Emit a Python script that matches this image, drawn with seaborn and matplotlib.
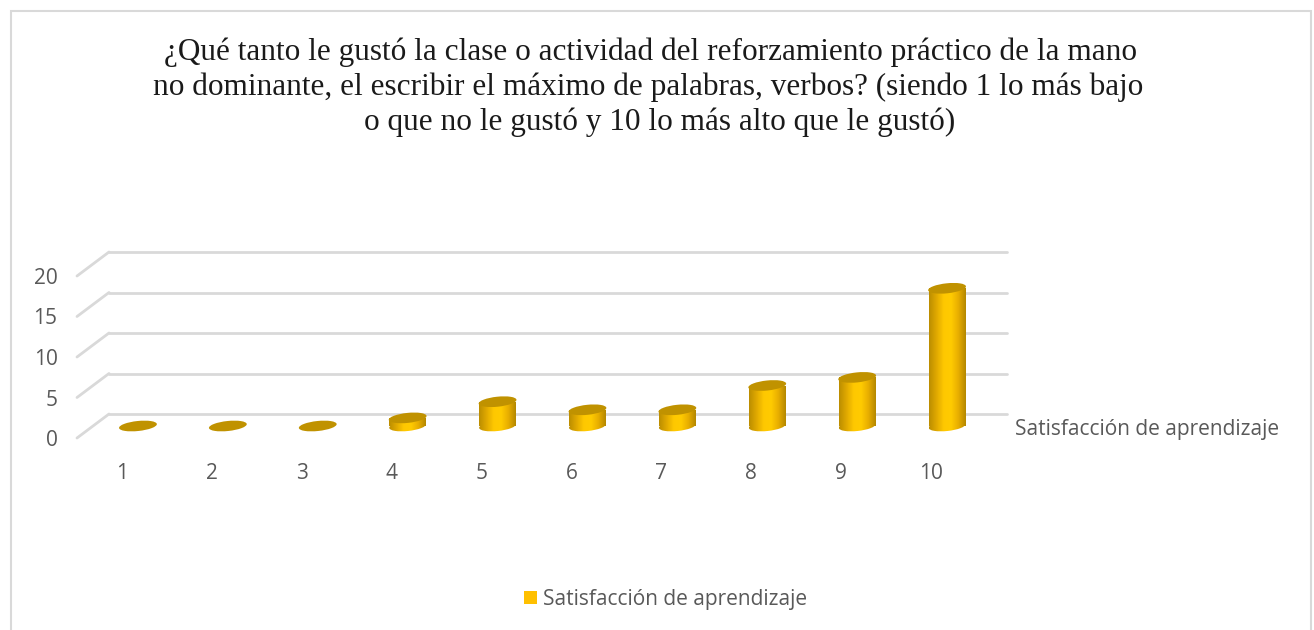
import matplotlib
matplotlib.use('Agg')
import matplotlib.pyplot as plt
import numpy as np
import pandas as pd
import seaborn as sns
from matplotlib.colors import LinearSegmentedColormap
from matplotlib.patches import ConnectionPatch, Ellipse, Rectangle
from matplotlib.transforms import IdentityTransform

# Data
categorias = ['1', '2', '3', '4', '5', '6', '7', '8', '9', '10']
satisfaccion = [0, 0, 0, 1, 3, 2, 2, 5, 6, 17]
marcas_y = [0, 5, 10, 15, 20]
serie = 'Satisfacción de aprendizaje'
titulo = ['¿Qué tanto le gustó la clase o actividad del reforzamiento práctico de la mano',
          'no dominante, el escribir el máximo de palabras, verbos? (siendo 1 lo más bajo',
          'o que no le gustó y 10 lo más alto que le gustó)']

df = pd.DataFrame({'categoria': categorias, 'valor': satisfaccion})

W, H = 1314, 630
GRIS = '#595959'
LINEA = '#D9D9D9'

sns.set_theme(style='white')
plt.rcParams['font.family'] = ['Open Sans', 'DejaVu Sans']

fig = plt.figure(figsize=(W / 100, H / 100), dpi=100, facecolor='white')


# pixel box (top-left origin) to a figure axes
def caja(x0, y_base, ancho, alto):
    return fig.add_axes([x0 / W, 1 - y_base / H, ancho / W, alto / H])


# chart frame, runs off the bottom of the picture
fig.add_artist(Rectangle((10.5 / W, -0.02), 1300.5 / W, 1.02 - 10.5 / H, transform=fig.transFigure,
                         fill=False, edgecolor=LINEA, linewidth=1.5))

# back wall with the gridlines, front plane with the labels, bars half way between
fondo = caja(109, 414, 898, 162)
frente = caja(77, 438, 899, 162)
barras = caja(93, 426, 899, 162)

for a in (fondo, frente, barras):
    a.patch.set_alpha(0)
    a.set_xlim(-0.5, 9.5)
    a.set_ylim(0, 20)
    sns.despine(ax=a, left=True, bottom=True)

fondo.set_xticks([])
fondo.set_yticks(marcas_y)
fondo.set_yticklabels([])
fondo.tick_params(length=0)
fondo.grid(axis='y', color=LINEA, linewidth=2)
fondo.set_axisbelow(True)
for g in fondo.get_ygridlines():
    g.set_clip_on(False)
for s in fondo.spines.values():
    s.set_visible(False)

frente.set_xticks(range(len(categorias)))
frente.set_xticklabels(categorias)
frente.set_yticks(marcas_y)
frente.tick_params(length=0, labelsize=15, labelcolor=GRIS)
frente.tick_params(axis='x', pad=18)
frente.tick_params(axis='y', pad=14)

# side lines from the front plane to the back wall
for v in marcas_y:
    fig.add_artist(ConnectionPatch(xyA=(-0.5, v), coordsA=frente.transData,
                                   xyB=(-0.5, v), coordsB=fondo.transData,
                                   color=LINEA, linewidth=2))

sns.barplot(data=df, x='categoria', y='valor', order=categorias, color='#FFC000',
            width=0.41, ax=barras, saturation=1)
barras.set_xlim(-0.5, 9.5)
barras.set_ylim(0, 20)
barras.axis('off')

# cylinder shading
sombra = LinearSegmentedColormap.from_list('cilindro', ['#BC8E00', '#E0A900', '#FFC800', '#FFCB00', '#E8AE00', '#B58800'])
franja = np.linspace(0, 1, 64).reshape(1, -1)
TAPA = '#C09200'
ANCHO_E, ALTO_E, GIRO = 38, 10, 6

for rect, valor in zip(list(barras.patches), satisfaccion):
    x, w = rect.get_x(), rect.get_width()
    cx, y0 = barras.transData.transform((x + w / 2, 0))
    _, y1 = barras.transData.transform((x + w / 2, valor))
    rect.set_visible(False)
    if valor > 0:
        # body and rounded base, both clipped from one gradient
        base = Ellipse((cx, y0), ANCHO_E - 1, ALTO_E, angle=GIRO, transform=IdentityTransform(),
                       facecolor='none', edgecolor='none')
        cuerpo = Rectangle((x, 0), w, valor, transform=barras.transData,
                           facecolor='none', edgecolor='none')
        barras.add_patch(base)
        barras.add_patch(cuerpo)
        base.set_clip_on(False)
        for forma in (cuerpo, base):
            im = barras.imshow(franja, cmap=sombra, aspect='auto', zorder=3,
                               extent=(x, x + w, -2, valor))
            im.set_clip_path(forma)
            if forma is base:
                im.set_clip_box(fig.bbox)
    tapa = Ellipse((cx, y1), ANCHO_E, ALTO_E, angle=GIRO, transform=IdentityTransform(),
                   facecolor=TAPA, edgecolor='none', zorder=4)
    tapa.set_clip_on(False)
    barras.add_patch(tapa)
barras.set_xlim(-0.5, 9.5)
barras.set_ylim(0, 20)

# depth axis label
fig.text(1015 / W, 1 - 429 / H, serie, fontsize=15, color=GRIS, va='center', ha='left')

# legend
fig.add_artist(Rectangle((524 / W, 1 - 604 / H), 13 / W, 13 / H, transform=fig.transFigure,
                         facecolor='#FFC000', edgecolor='none'))
fig.text(543 / W, 1 - 599 / H, serie, fontsize=15, color=GRIS, va='center', ha='left')

# title lines are placed one by one, the third sits a bit right of centre
for linea, xt, yt in zip(titulo, [650, 648, 660], [52, 87, 122]):
    fig.text(xt / W, 1 - yt / H, linea, family=['Liberation Serif', 'DejaVu Serif'], fontsize=22.5,
             color='#1A1A1A', ha='center', va='center')

fig.savefig('out.png', dpi=100, facecolor='white')
